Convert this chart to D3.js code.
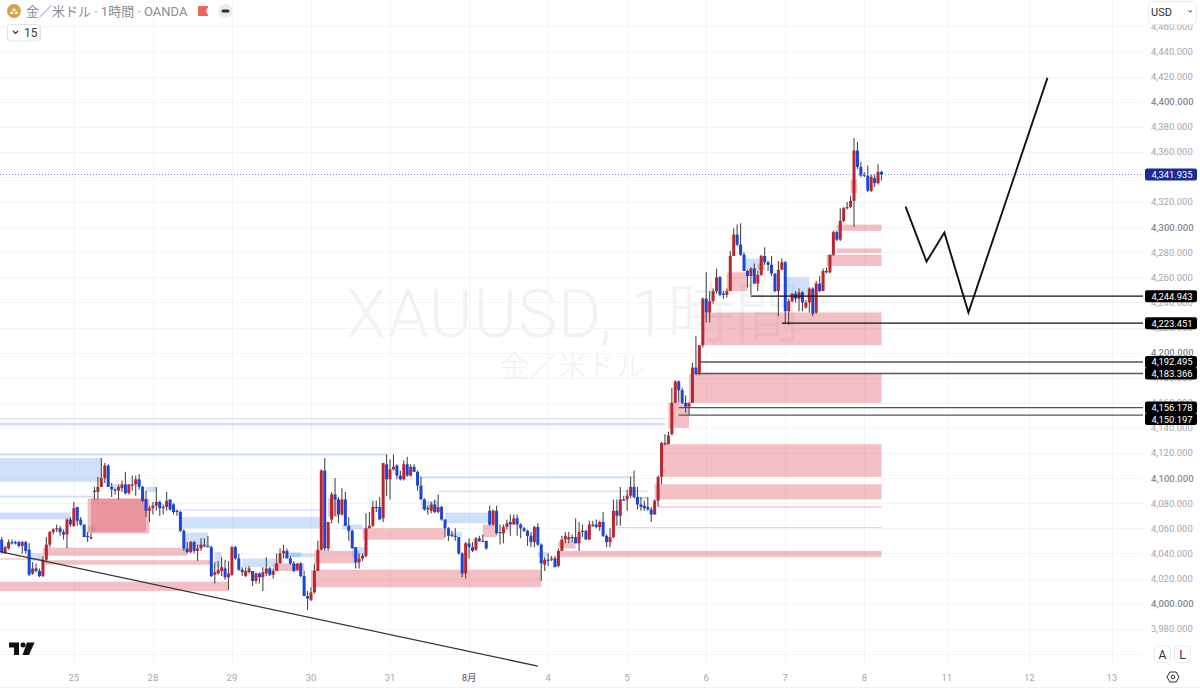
<!DOCTYPE html>
<html>
<head>
<meta charset="utf-8">
<script src="https://cdn.jsdelivr.net/npm/d3@7"></script>
<style>
  html, body { margin: 0; padding: 0; background: #fff; overflow: hidden; }
  text { font-family: Roboto, "Noto Sans CJK JP", sans-serif; }
</style>
</head>
<body>
<div id="chart"></div>
<script>
// hourly candles
const opens = [
  4051,4040,4044,4049,4049,4049,4046,4049,4043,4024, 4028,4026,4022,4035,4047,4057,4059,4060,4057,4055,
  4067,4062,4077,4067,4063,4054,4053,4090,4089,4093, 4100,4110,4093,4091,4090,4092,4095,4088,4094,4095,
  4099,4093,4083,4074,4076,4078,4081,4076,4077,4083, 4079,4074,4073,4058,4044,4041,4049,4042,4044,4046,
  4046,4045,4023,4024,4026,4028,4021,4023,4045,4036, 4027,4022,4025,4026,4018,4024,4021,4024,4028,4023,
  4026,4032,4040,4042,4036,4032,4027,4032,4022,4006, 4003,4009,4026,4043,4106,4044,4067,4087,4083,4071,
  4083,4062,4058,4045,4033,4036,4038,4060,4062,4077, 4077,4068,4111,4099,4107,4110,4102,4099,4111,4102,
  4109,4105,4094,4083,4076,4074,4079,4073,4077,4067, 4060,4055,4054,4053,4040,4024,4048,4045,4043,4052,
  4049.5,4050,4074,4063,4074,4057,4056,4061,4065,4063, 4068,4063,4060,4058,4054,4049,4061,4047,4031,4035,
  4035,4036,4030,4042,4051,4051,4053,4053,4048,4057, 4058,4051,4063,4063,4061,4065,4054,4049,4053,4074,
  4070,4083,4083,4086,4093,4085,4079,4078,4077,4075, 4071,4082,4101,4128,4127,4135,4160,4177,4170,4160,
  4157,4160,4188,4183,4206,4243,4232,4241,4249,4260, 4247,4246,4249,4277,4294,4286,4278,4265,4261,4267,
  4255,4262,4277,4272,4270,4263,4249,4266,4272,4233, 4241,4247,4243,4248,4236,4240,4251,4232,4255,4249,
  4265,4264,4278,4296,4290,4305,4315,4316,4321,4361, 4348,4342,4341,4329,4339,4335,4344
];
const highs = [
  4053,4046,4051,4051,4050,4050,4050,4050,4048,4033, 4032,4028,4038,4053,4058,4060,4063,4062,4059,4068,
  4069,4081,4077,4069,4063,4057,4056,4093,4101,4116, 4112,4111,4096,4092,4095,4098,4105,4095,4102,4102,
  4103,4094,4090,4078,4081,4093,4082,4079,4089,4083, 4080,4075,4074,4059,4049,4050,4050,4047,4052,4052,
  4054,4046,4033,4034,4037,4035,4034,4046,4046,4040, 4029,4029,4030,4026,4025,4025,4029,4037,4029,4028,
  4040,4044,4047,4044,4038,4034,4032,4033,4026,4010, 4013,4032,4050,4107,4116,4065,4089,4100,4085,4092,
  4089,4069,4059,4045,4040,4040,4072,4073,4082,4082, 4085,4112,4119,4115,4119,4111,4106,4114,4117,4111,
  4111,4106,4101,4084,4078,4081,4083,4087,4078,4067, 4061,4058,4060,4053,4041,4049,4052,4049,4053,4054,
  4055,4050,4078,4075,4078,4063,4063,4067,4071,4071, 4071,4064,4061,4059,4057,4062,4064,4048,4037,4040,
  4038,4038,4044,4054,4057,4057,4055,4068,4065,4063, 4059,4066,4066,4067,4066,4073,4055,4060,4083,4083,
  4093,4086,4091,4101,4106,4093,4085,4082,4085,4077, 4083,4102,4129,4135,4137,4172,4178,4178,4172,4166,
  4160,4192,4213,4206,4244,4264,4249,4251,4267,4261, 4249,4251,4281,4299,4302,4303,4280,4266,4268,4271,
  4265,4278,4284,4273,4277,4263,4273,4275,4273,4243, 4247,4249,4251,4249,4242,4252,4252,4257,4261,4267,
  4268,4278,4297,4297,4315,4316,4320,4325,4371,4368, 4352,4344,4349,4342,4342,4350,4345
];
const lows = [
  4040,4040,4043,4047,4047,4045,4040,4040,4022,4023, 4025,4021,4021,4033,4045,4055,4057,4054,4051,4044,
  4061,4061,4062,4062,4053,4049,4051,4083,4083,4093, 4096,4093,4085,4087,4083,4089,4087,4087,4090,4086,
  4091,4081,4069,4065,4071,4074,4070,4071,4074,4074, 4071,4070,4057,4042,4040,4040,4040,4034,4042,4045,
  4045,4021,4016,4023,4022,4019,4011,4022,4035,4026, 4022,4021,4024,4014,4016,4016,4010,4022,4022,4020,
  4026,4032,4036,4036,4031,4025,4026,4021,4006,3995, 4002,4008,4026,4042,4042,4042,4064,4070,4064,4070,
  4062,4050,4044,4028,4028,4034,4037,4060,4061,4073, 4067,4065,4086,4083,4106,4099,4098,4098,4101,4101,
  4105,4090,4083,4074,4071,4072,4072,4072,4066,4053, 4050,4053,4050,4039,4021,4020,4036,4041,4042,4049,
  4049,4043,4062,4062,4055,4047,4048,4059,4054,4063, 4054,4052,4057,4046,4045,4045,4046,4018,4026,4030,
  4034,4029,4029,4042,4048,4048,4049,4048,4042,4053, 4051,4051,4061,4060,4058,4053,4045,4045,4052,4062,
  4062,4082,4074,4084,4084,4075,4074,4074,4074,4065, 4071,4077,4095,4126,4127,4134,4160,4160,4159,4152,
  4150,4160,4182,4182,4204,4224,4224,4239,4247,4245, 4243,4244,4249,4277,4285,4277,4265,4252,4246,4255,
  4249,4261,4270,4265,4261,4248,4229,4266,4223,4222, 4240,4240,4233,4233,4235,4232,4229,4231,4248,4249,
  4263,4263,4277,4289,4289,4304,4314,4315,4300,4346, 4340,4340,4328,4328,4332,4334,4337
];
const closes = [
  4041,4045,4049,4048,4048,4046,4049,4042,4023,4028, 4026,4022,4035,4047,4057,4059,4060,4057,4055,4067,
  4063,4076,4066,4063,4053,4053,4052,4089,4093,4100, 4110,4093,4091,4090,4093,4095,4088,4095,4095,4099,
  4093,4082,4074,4076,4078,4081,4076,4077,4082,4075, 4073,4073,4058,4044,4041,4049,4042,4044,4047,4047,
  4045,4022,4025,4027,4029,4021,4024,4045,4036,4027, 4025,4026,4028,4018,4024,4021,4025,4028,4023,4026,
  4032,4040,4042,4036,4032,4026,4032,4022,4006,4004, 4009,4026,4043,4106,4044,4065,4087,4083,4071,4083,
  4062,4058,4044,4033,4036,4038,4060,4062,4077,4076, 4067,4112,4099,4107,4109,4102,4099,4111,4102,4109,
  4105,4094,4083,4075,4075,4079,4073,4077,4067,4060, 4054,4054,4053,4040,4024,4048,4045,4042,4052,4050,
  4050,4044,4063,4074,4056,4056,4061,4064,4063,4068, 4063,4060,4058,4054,4049,4061,4047,4032,4035,4034,
  4036,4029,4042,4051,4054,4053,4052,4048,4057,4058, 4051,4063,4062,4061,4065,4054,4049,4053,4074,4070,
  4083,4082,4086,4093,4085,4079,4077,4076,4075,4071, 4082,4101,4128,4127,4134,4160,4177,4170,4160,4157,
  4160,4188,4183,4206,4243,4232,4241,4249,4260,4246, 4246,4249,4277,4294,4286,4278,4265,4261,4267,4255,
  4262,4277,4272,4270,4263,4249,4266,4272,4233,4241, 4247,4243,4248,4240,4240,4251,4231,4255,4249,4265,
  4264,4278,4296,4290,4305,4315,4316,4321,4361,4348, 4341,4341,4329,4340,4335,4344,4341.9
];

// zones: [first bar, last bar, top price, bottom price]
const blueZones = [
  [-1,29,4116,4097],[-1,112,4119.5,4118],[-1,193,4147.8,4147],[-1,193,4144,4142],[-1,27,4086,4084.5],
  [-1,20,4072.5,4067],[52,93,4069,4060],[51,93,4075,4074],[42,45,4093,4089],[32,35,4095,4092],
  [53,60,4056.6,4044.6],[62,64,4041,4029],[70,80,4036,4029],[82,87,4041,4037],[8,12,4040,4034],
  [25,27,4062,4057],[84,91,4040,4037],[99,105,4063,4059],[102,106,4045,4037],[121,184,4101.5,4100],
  [127,188,4090,4089],[129,142,4072.5,4064],[122,127,4082,4075],[131,134,4057,4053],[156,159,4041,4037],
  [184,188,4085,4083],[216,222,4275,4265],[228,235,4260,4244]
];
const redZones = [
  [-1,66,4017.5,4010],[12,61,4034.6,4031],[-1,12,4036,4035],[12,54,4044.6,4038],[25,43,4083.7,4055.8],
  [26,42,4083.7,4057],[79,88,4032,4026],[90,157,4027,4013],[91,104,4042,4032],[105,129,4060,4051],
  [95,98,4084,4069],[140,144,4063,4053],[162,256,4042,4037],[162,167,4050,4044],[191,256,4077.5,4076.5],
  [179,256,4061,4060.4],[190,256,4095,4083],[192,256,4127,4101],[194,200,4160,4140],[200,256,4183,4160],
  [204,256,4232,4206],[211,217,4264,4249],[240,256,4278,4269],[243,256,4283,4279.5],[243,256,4302,4297],
  [247,249,4338,4327],[220,222,4271,4266]
];

// drawn levels: price and the bar they start from
const levelPrices = [4244.943, 4223.451, 4192.495, 4183.366, 4156.178, 4150.197];
const levelStarts = [218, 227, 203, 202, 197, 197];
const lastPrice = 4341.935;

const trendBars = [-0.5, 156];
const trendPrices = [4041.4, 3950.2];
const pathBars = [263, 269.1, 274.3, 281.3, 304.3];
const pathPrices = [4316.3, 4272.5, 4295.6, 4231.9, 4419];

const priceTicks = d3.range(3980, 4461, 20);
const dayBars = [21, 44, 67, 90, 113, 136, 159, 182, 205, 228, 251, 275, 299, 323];
const dayLabels = ["25", "28", "29", "30", "31", "8月", "4", "5", "6", "7", "8", "11", "12", "13"];

const width = 1200, height = 688, axisX = 1143, axisY = 665;

let svg = d3.select("#chart").append("svg")
    .attr("width", width)
    .attr("height", height)
    .style("display", "block");

const x = d3.scaleLinear().domain([0, 256]).range([1.67, 881.5]);
const y = d3.scaleLinear().domain([3980, 4460]).range([628.7, 26.3]);

// grid
svg.append("g").selectAll("line").data(priceTicks.concat([3960])).join("line")
    .attr("x1", 0).attr("x2", axisX)
    .attr("y1", d => Math.round(y(d)) + 0.5).attr("y2", d => Math.round(y(d)) + 0.5)
    .attr("stroke", "#f3f4f6");
svg.append("g").selectAll("line").data(dayBars).join("line")
    .attr("x1", d => Math.round(x(d)) + 0.5).attr("x2", d => Math.round(x(d)) + 0.5)
    .attr("y1", 0).attr("y2", axisY)
    .attr("stroke", "#f3f4f6");

// watermark
svg.append("text").attr("x", 346).attr("y", 337).attr("font-size", 66).attr("letter-spacing", 1)
    .attr("font-weight", 300).attr("fill", "#f2f2f3").text("XAUUSD, 1時間");
svg.append("text").attr("x", 500).attr("y", 377).attr("font-size", 29)
    .attr("font-weight", 300).attr("fill", "#f1f1f2").text("金／米ドル");

// zones
const drawZones = (zones, color) => svg.append("g").selectAll("rect").data(zones).join("rect")
    .attr("x", d => x(d[0]))
    .attr("width", d => x(d[1]) - x(d[0]))
    .attr("y", d => y(d[2]))
    .attr("height", d => y(d[3]) - y(d[2]))
    .attr("fill", color);
drawZones(blueZones, "rgba(70,135,235,0.26)");
drawZones(redZones, "rgba(222,80,95,0.37)");

// candles
const bars = d3.range(opens.length);
const candleColor = i => closes[i] >= opens[i] ? "#bb2530" : "#1c44d8";
svg.append("g").selectAll("line").data(bars).join("line")
    .attr("x1", i => x(i)).attr("x2", i => x(i))
    .attr("y1", i => y(highs[i])).attr("y2", i => y(lows[i]))
    .attr("stroke", "#4a4a4a").attr("stroke-width", 1.1);
svg.append("g").selectAll("rect").data(bars).join("rect")
    .attr("x", i => x(i) - 1.5)
    .attr("width", 3)
    .attr("y", i => y(Math.max(opens[i], closes[i])))
    .attr("height", i => Math.max(1.2, Math.abs(y(opens[i]) - y(closes[i]))))
    .attr("fill", candleColor);

// last price dotted line
svg.append("line")
    .attr("x1", 0).attr("x2", axisX)
    .attr("y1", y(lastPrice)).attr("y2", y(lastPrice))
    .attr("stroke", "#6f8be0").attr("stroke-dasharray", "1 2");

// horizontal levels
svg.append("g").selectAll("line").data(levelPrices).join("line")
    .attr("x1", (d, i) => x(levelStarts[i])).attr("x2", axisX)
    .attr("y1", d => y(d)).attr("y2", d => y(d))
    .attr("stroke", (d, i) => i < 2 ? "#111" : "#555")
    .attr("stroke-width", (d, i) => i < 2 ? 1.2 : 1.4);

// trend line and projected path
const line = d3.line().x(d => x(d[0])).y(d => y(d[1]));
svg.append("path").datum(trendBars.map((b, i) => [b, trendPrices[i]]))
    .attr("d", line).attr("fill", "none").attr("stroke", "#333").attr("stroke-width", 1.3);
svg.append("path").datum(pathBars.map((b, i) => [b, pathPrices[i]]))
    .attr("d", line).attr("fill", "none").attr("stroke", "#111").attr("stroke-width", 1.9);

// price axis
svg.append("g").selectAll("text").data(priceTicks).join("text")
    .attr("x", 1151).attr("y", d => y(d) + 3.4)
    .attr("font-size", 9.5)
    .attr("font-weight", d => d % 100 === 0 ? 500 : 400)
    .attr("fill", d => d % 100 === 0 ? "#878b94" : "#a3a6af")
    .text(d => d3.format(",.3f")(d));

// time axis
svg.append("g").selectAll("text").data(dayBars).join("text")
    .attr("x", d => x(d)).attr("y", 680.5)
    .attr("text-anchor", "middle")
    .attr("font-size", 9.5)
    .attr("font-weight", (d, i) => dayLabels[i] === "8月" ? 500 : 400)
    .attr("fill", (d, i) => dayLabels[i] === "8月" ? "#6a6d78" : "#a3a6af")
    .text((d, i) => dayLabels[i]);
svg.append("line").attr("x1", 0).attr("x2", width).attr("y1", 687.5).attr("y2", 687.5).attr("stroke", "#f0f1f3");

// price tags, the close ones get pushed apart like in the app
const priceTag = (price, color, shift) => {
    let g = svg.append("g");
    let mid = y(price) + shift;
    g.append("rect").attr("x", 1145).attr("width", 52).attr("y", mid - 6).attr("height", 12)
        .attr("rx", 2).attr("fill", color);
    g.append("text").attr("x", 1172).attr("y", mid + 3.4).attr("text-anchor", "middle")
        .attr("font-size", 9.4).attr("fill", "#fff")
        .text(d3.format(",.3f")(price));
};
const tagShifts = [0, 0, 0, 0, 0, 4];
levelPrices.forEach((p, i) => priceTag(p, "#000", tagShifts[i]));
priceTag(lastPrice, "#1a2a96", 0);

// header
svg.append("circle").attr("cx", 14).attr("cy", 11).attr("r", 7).attr("fill", "#d6a24a");
svg.append("path").attr("d", "M10 14h3.4l-.8-2.4h-1.8zM14.6 14H18l-.8-2.4h-1.8zM12.3 11h3.4l-.8-2.6h-1.8z").attr("fill", "#fff");
svg.append("text").attr("x", 26).attr("y", 16).attr("font-size", 13).attr("fill", "#8a8d96")
    .text("金／米ドル · 1時間 · OANDA");
svg.append("path").attr("d", "M198 6h10.5l-2.5 5 2.5 5H198z").attr("fill", "#f0625f");
svg.append("circle").attr("cx", 225.5).attr("cy", 11).attr("r", 7).attr("fill", "#e9eaec");
svg.append("rect").attr("x", 221.5).attr("y", 9.5).attr("width", 8).attr("height", 3).attr("rx", 1.5).attr("fill", "#2a2e39");

svg.append("rect").attr("x", 7.5).attr("y", 24.5).attr("width", 33).attr("height", 16.5).attr("rx", 3)
    .attr("fill", "#fff").attr("stroke", "#e0e3eb");
svg.append("path").attr("d", "M13 31l2.5 2.5 2.5-2.5").attr("fill", "none").attr("stroke", "#2a2e39").attr("stroke-width", 1.1);
svg.append("text").attr("x", 24).attr("y", 37).attr("font-size", 12).attr("fill", "#3a3e49").text("15");

svg.append("rect").attr("x", 1148.5).attr("y", 1.5).attr("width", 48).attr("height", 23).attr("rx", 4)
    .attr("fill", "#fff").attr("stroke", "#e8eaee");
svg.append("text").attr("x", 1151).attr("y", 15.5).attr("font-size", 11).attr("fill", "#2a2e39").text("USD");
svg.append("path").attr("d", "M1188.5 10.5l1.8 1.6 1.8-1.6").attr("fill", "none").attr("stroke", "#2a2e39");

// logo
svg.append("path").attr("d", "M9 642.5h10v12.5h-5v-7.5H9zM27 642.5h7.5l-5.5 12.5h-6.5z").attr("fill", "#111");
svg.append("circle").attr("cx", 23).attr("cy", 645).attr("r", 2.5).attr("fill", "#111");

// bottom right buttons
[["A", 1154.5], ["L", 1174.5]].forEach(b => {
    svg.append("rect").attr("x", b[1]).attr("y", 646).attr("width", 16).attr("height", 16.5).attr("rx", 3)
        .attr("fill", "#fff").attr("stroke", "#e8eaee");
    svg.append("text").attr("x", b[1] + 8).attr("y", 658.5).attr("text-anchor", "middle")
        .attr("font-size", 12).attr("fill", "#2a2e39").text(b[0]);
});
svg.append("path").attr("d", "M1167 677l2.8-5h6.4l2.8 5-2.8 5h-6.4z").attr("fill", "none").attr("stroke", "#2a2e39");
svg.append("circle").attr("cx", 1173).attr("cy", 677).attr("r", 1.8).attr("fill", "none").attr("stroke", "#2a2e39");
</script>
</body>
</html>
